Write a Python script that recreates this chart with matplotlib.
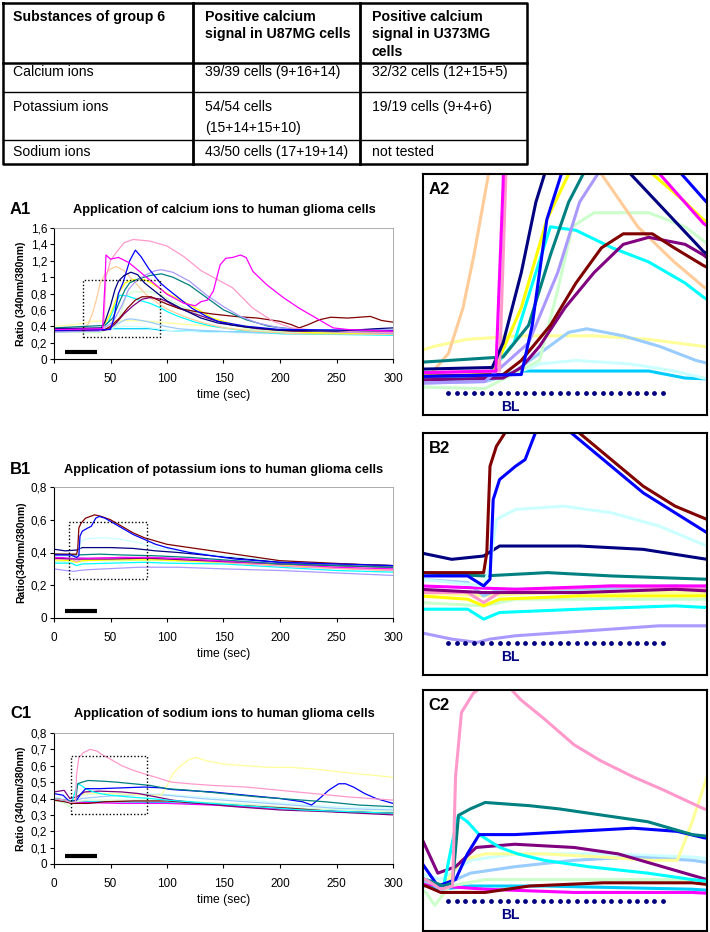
import numpy as np
import matplotlib.pyplot as plt

plt.rcParams['font.family'] = ['Liberation Sans', 'DejaVu Sans']

W, H = 710, 932

# Excel-like trace colours
NAVY = '#000080'
BLUE = '#0000ff'
MAGENTA = '#ff00ff'
ROSE = '#ff99cc'
TAN = '#ffcc99'
YELLOW = '#ffff00'
TEAL = '#008080'
LAVENDER = '#aa99ff'
LIGHTGREEN = '#ccffcc'
CYAN = '#00ffff'
DARKRED = '#800000'
PURPLE = '#800080'
PALEBLUE = '#99ccff'
LIGHTYELLOW = '#ffff99'
PALECYAN = '#ccffff'
SKY = '#00ccff'

# ---- table ----
table_header = ['Substances of group 6',
                'Positive calcium\nsignal in U87MG cells',
                'Positive calcium\nsignal in U373MG\ncells']
table_rows = [['Calcium ions', '39/39 cells (9+16+14)', '32/32 cells (12+15+5)'],
              ['Potassium ions', '54/54 cells\n(15+14+15+10)', '19/19 cells (9+4+6)'],
              ['Sodium ions', '43/50 cells (17+19+14)', 'not tested']]

# ---- A: calcium ions (time in s, ratio 340/380) ----
a_tan_t = [0, 25, 30, 34, 37, 41, 45, 50, 55, 62, 72, 82, 92, 100, 115, 130, 150, 175, 210, 300]
a_tan_v = [0.36, 0.36, 0.42, 0.55, 0.70, 0.93, 1.03, 1.10, 1.13, 1.08, 0.93, 0.78, 0.68, 0.61, 0.52, 0.45, 0.38, 0.34, 0.31, 0.30]
a_magenta_t = [0, 43, 45, 46, 50, 57, 66, 80, 88, 100, 115, 125, 130, 136, 141, 147, 152, 158, 165, 170, 176, 188, 203, 217, 232, 247, 260, 300]
a_magenta_v = [0.36, 0.37, 0.90, 1.27, 1.22, 1.24, 1.18, 1.02, 0.93, 0.79, 0.68, 0.65, 0.70, 0.72, 0.83, 1.15, 1.23, 1.24, 1.27, 1.24, 1.07, 0.91, 0.75, 0.62, 0.50, 0.38, 0.36, 0.34]
a_rose_t = [0, 44, 46, 50, 55, 62, 70, 85, 100, 115, 130, 150, 158, 176, 194, 210, 240, 300]
a_rose_v = [0.36, 0.37, 1.00, 1.20, 1.30, 1.42, 1.46, 1.44, 1.38, 1.25, 1.08, 0.93, 0.87, 0.62, 0.46, 0.38, 0.34, 0.32]
a_blue_t = [0, 50, 53, 57, 61, 67, 72, 77, 84, 94, 100, 110, 122, 135, 145, 170, 200, 300]
a_blue_v = [0.35, 0.36, 0.50, 0.80, 0.93, 1.20, 1.33, 1.25, 1.10, 0.93, 0.86, 0.75, 0.62, 0.52, 0.46, 0.40, 0.36, 0.35]
a_navy_t = [0, 42, 45, 50, 54, 57, 62, 68, 74, 80, 90, 100, 115, 130, 145, 170, 200, 250, 285, 300]
a_navy_v = [0.37, 0.38, 0.45, 0.65, 0.85, 0.95, 1.02, 1.06, 1.03, 0.93, 0.82, 0.71, 0.60, 0.50, 0.44, 0.39, 0.35, 0.34, 0.37, 0.38]
a_yellow_t = [0, 42, 50, 57, 63, 70, 80, 86, 95, 100, 115, 128, 140, 160, 190, 230, 300]
a_yellow_v = [0.35, 0.36, 0.55, 0.80, 0.93, 0.97, 0.97, 0.93, 0.85, 0.80, 0.70, 0.60, 0.50, 0.42, 0.36, 0.32, 0.31]
a_teal_t = [0, 30, 45, 52, 58, 63, 67, 75, 85, 95, 105, 120, 135, 150, 170, 190, 220, 300]
a_teal_v = [0.38, 0.40, 0.41, 0.50, 0.70, 0.85, 0.93, 0.98, 1.02, 1.04, 1.00, 0.90, 0.75, 0.60, 0.48, 0.40, 0.35, 0.32]
a_lavender_t = [0, 40, 52, 60, 66, 71, 80, 90, 95, 105, 120, 135, 150, 165, 180, 200, 230, 300]
a_lavender_v = [0.33, 0.34, 0.45, 0.65, 0.85, 0.93, 1.02, 1.08, 1.09, 1.06, 0.95, 0.78, 0.64, 0.52, 0.44, 0.38, 0.34, 0.31]
a_lightgreen_t = [0, 40, 55, 60, 64, 70, 85, 95, 105, 120, 135, 155, 180, 220, 300]
a_lightgreen_v = [0.33, 0.32, 0.40, 0.60, 0.78, 0.82, 0.82, 0.78, 0.70, 0.60, 0.50, 0.42, 0.35, 0.31, 0.30]
a_cyan_t = [0, 40, 48, 54, 58, 65, 75, 85, 95, 100, 110, 125, 140, 165, 200, 300]
a_cyan_v = [0.34, 0.35, 0.45, 0.65, 0.78, 0.77, 0.72, 0.68, 0.62, 0.58, 0.52, 0.45, 0.40, 0.35, 0.31, 0.29]
a_darkred_t = [0, 45, 50, 58, 65, 72, 78, 86, 92, 100, 110, 125, 140, 160, 180, 200, 210, 217, 225, 235, 245, 260, 280, 290, 300]
a_darkred_v = [0.35, 0.36, 0.40, 0.50, 0.62, 0.72, 0.76, 0.76, 0.72, 0.67, 0.62, 0.58, 0.55, 0.52, 0.50, 0.46, 0.42, 0.38, 0.42, 0.48, 0.51, 0.50, 0.52, 0.47, 0.45]
a_purple_t = [0, 45, 50, 55, 62, 70, 78, 85, 95, 100, 110, 125, 140, 155, 180, 210, 300]
a_purple_v = [0.34, 0.35, 0.38, 0.44, 0.55, 0.65, 0.73, 0.75, 0.73, 0.70, 0.62, 0.55, 0.48, 0.42, 0.37, 0.34, 0.33]
a_paleblue_t = [0, 40, 47, 55, 63, 68, 78, 88, 98, 110, 130, 160, 200, 300]
a_paleblue_v = [0.33, 0.34, 0.36, 0.42, 0.48, 0.49, 0.47, 0.44, 0.40, 0.37, 0.35, 0.33, 0.31, 0.30]
a_lightyellow_t = [0, 20, 26, 35, 50, 70, 85, 100, 120, 140, 160, 190, 230, 300]
a_lightyellow_v = [0.40, 0.42, 0.44, 0.46, 0.47, 0.47, 0.46, 0.44, 0.42, 0.40, 0.37, 0.34, 0.32, 0.30]
a_palecyan_t = [0, 45, 55, 65, 80, 92, 100, 130, 200, 300]
a_palecyan_v = [0.34, 0.35, 0.39, 0.40, 0.39, 0.37, 0.35, 0.33, 0.31, 0.30]
a_sky_t = [0, 40, 50, 85, 95, 120, 200, 300]
a_sky_v = [0.34, 0.35, 0.37, 0.37, 0.35, 0.34, 0.32, 0.31]

# ---- B: potassium ions ----
b_darkred_t = [0, 20, 21, 22, 24, 28, 32, 36, 42, 50, 60, 70, 80, 90, 100, 120, 140, 160, 180, 200, 230, 260, 300]
b_darkred_v = [0.39, 0.39, 0.42, 0.55, 0.58, 0.61, 0.62, 0.63, 0.62, 0.60, 0.56, 0.52, 0.49, 0.47, 0.45, 0.43, 0.41, 0.39, 0.37, 0.35, 0.34, 0.33, 0.32]
b_blue_t = [0, 15, 20, 22, 23, 25, 30, 33, 37, 40, 45, 50, 60, 70, 80, 90, 100, 120, 140, 160, 180, 200, 250, 300]
b_blue_v = [0.385, 0.385, 0.37, 0.38, 0.50, 0.53, 0.55, 0.56, 0.61, 0.62, 0.61, 0.59, 0.55, 0.51, 0.48, 0.45, 0.43, 0.40, 0.38, 0.36, 0.35, 0.34, 0.33, 0.32]
b_palecyan_t = [0, 20, 22, 24, 30, 45, 60, 75, 90, 110, 150, 200, 250, 300]
b_palecyan_v = [0.38, 0.37, 0.40, 0.47, 0.485, 0.49, 0.48, 0.46, 0.43, 0.41, 0.38, 0.35, 0.33, 0.32]
b_navy_t = [0, 10, 20, 25, 50, 70, 90, 110, 140, 170, 200, 250, 300]
b_navy_v = [0.42, 0.41, 0.415, 0.43, 0.43, 0.425, 0.41, 0.40, 0.38, 0.36, 0.34, 0.33, 0.32]
b_teal_t = [0, 20, 40, 60, 90, 120, 160, 200, 300]
b_teal_v = [0.39, 0.385, 0.39, 0.385, 0.38, 0.37, 0.35, 0.33, 0.31]
b_magenta_t = [0, 30, 60, 90, 120, 160, 200, 250, 300]
b_magenta_v = [0.37, 0.365, 0.37, 0.37, 0.36, 0.345, 0.33, 0.31, 0.30]
b_rose_t = [0, 15, 20, 25, 40, 60, 90, 130, 170, 220, 300]
b_rose_v = [0.36, 0.36, 0.345, 0.36, 0.365, 0.37, 0.365, 0.35, 0.33, 0.31, 0.29]
b_paleblue_t = [0, 15, 20, 25, 50, 80, 100, 140, 200, 300]
b_paleblue_v = [0.38, 0.375, 0.355, 0.365, 0.365, 0.37, 0.365, 0.35, 0.33, 0.31]
b_yellow_t = [0, 15, 20, 25, 50, 90, 130, 180, 230, 300]
b_yellow_v = [0.355, 0.35, 0.34, 0.35, 0.355, 0.355, 0.345, 0.33, 0.31, 0.29]
b_cyan_t = [0, 15, 20, 25, 50, 80, 100, 150, 200, 250, 300]
b_cyan_v = [0.335, 0.335, 0.32, 0.33, 0.335, 0.34, 0.335, 0.33, 0.31, 0.29, 0.28]
b_lightgreen_t = [0, 20, 30, 60, 100, 150, 200, 300]
b_lightgreen_v = [0.345, 0.34, 0.35, 0.35, 0.35, 0.335, 0.32, 0.30]
b_purple_t = [0, 20, 50, 80, 100, 150, 200, 300]
b_purple_v = [0.365, 0.36, 0.36, 0.365, 0.36, 0.345, 0.33, 0.31]
b_lavender_t = [0, 10, 18, 22, 30, 45, 60, 75, 90, 110, 150, 200, 250, 300]
b_lavender_v = [0.30, 0.29, 0.285, 0.29, 0.295, 0.30, 0.305, 0.31, 0.31, 0.31, 0.30, 0.29, 0.275, 0.26]
b_lightyellow_t = [0, 20, 40, 80, 120, 200, 300]
b_lightyellow_v = [0.36, 0.355, 0.36, 0.36, 0.355, 0.33, 0.30]

# ---- C: sodium ions ----
c_rose_t = [0, 10, 15, 19, 20, 22, 26, 32, 38, 42, 50, 60, 69, 80, 90, 104, 120, 140, 170, 200, 230, 260, 280, 300]
c_rose_v = [0.40, 0.39, 0.375, 0.38, 0.55, 0.65, 0.68, 0.70, 0.69, 0.67, 0.64, 0.60, 0.575, 0.55, 0.53, 0.50, 0.49, 0.48, 0.47, 0.45, 0.43, 0.41, 0.40, 0.39]
c_teal_t = [0, 10, 16, 19, 21, 25, 30, 45, 55, 70, 85, 100, 120, 150, 180, 200, 240, 270, 300]
c_teal_v = [0.40, 0.39, 0.38, 0.385, 0.49, 0.50, 0.51, 0.505, 0.50, 0.49, 0.48, 0.46, 0.45, 0.43, 0.41, 0.40, 0.38, 0.36, 0.35]
c_cyan_t = [0, 10, 16, 19, 21, 24, 28, 35, 41, 50, 65, 85, 100, 140, 180, 220, 260, 300]
c_cyan_v = [0.40, 0.39, 0.38, 0.45, 0.49, 0.48, 0.46, 0.44, 0.43, 0.42, 0.41, 0.40, 0.39, 0.37, 0.35, 0.33, 0.32, 0.31]
c_blue_t = [0, 8, 14, 20, 24, 28, 40, 60, 80, 95, 104, 115, 140, 170, 200, 220, 228, 235, 243, 252, 258, 265, 275, 285, 300]
c_blue_v = [0.43, 0.42, 0.38, 0.39, 0.43, 0.46, 0.46, 0.465, 0.47, 0.465, 0.455, 0.45, 0.44, 0.42, 0.40, 0.38, 0.36, 0.40, 0.45, 0.49, 0.49, 0.47, 0.43, 0.40, 0.37]
c_purple_t = [0, 9, 14, 20, 27, 40, 60, 75, 90, 105, 130, 160, 200, 240, 270, 300]
c_purple_v = [0.44, 0.45, 0.40, 0.41, 0.44, 0.445, 0.44, 0.43, 0.41, 0.39, 0.37, 0.35, 0.33, 0.32, 0.31, 0.30]
c_yellow_t = [0, 10, 16, 22, 30, 50, 70, 85, 95, 100, 105, 112, 120, 126, 135, 150, 170, 190, 210, 230, 250, 270, 300]
c_yellow_v = [0.40, 0.39, 0.38, 0.42, 0.43, 0.43, 0.425, 0.42, 0.42, 0.48, 0.55, 0.60, 0.64, 0.65, 0.63, 0.61, 0.60, 0.59, 0.59, 0.58, 0.565, 0.55, 0.53]
c_paleblue_t = [0, 15, 25, 40, 60, 80, 100, 130, 170, 210, 250, 300]
c_paleblue_v = [0.40, 0.38, 0.40, 0.41, 0.42, 0.425, 0.42, 0.40, 0.38, 0.36, 0.34, 0.33]
c_palecyan_t = [0, 15, 25, 40, 70, 100, 130, 170, 210, 250, 300]
c_palecyan_v = [0.41, 0.39, 0.42, 0.43, 0.43, 0.425, 0.41, 0.39, 0.37, 0.35, 0.34]
c_darkred_t = [0, 10, 15, 30, 45, 70, 100, 130, 170, 210, 250, 300]
c_darkred_v = [0.39, 0.38, 0.37, 0.37, 0.38, 0.385, 0.385, 0.37, 0.355, 0.34, 0.32, 0.31]
c_lightgreen_t = [0, 10, 13, 18, 30, 70, 100, 140, 180, 220, 260, 300]
c_lightgreen_v = [0.39, 0.37, 0.35, 0.38, 0.39, 0.39, 0.39, 0.375, 0.36, 0.34, 0.33, 0.32]
c_magenta_t = [0, 15, 30, 60, 100, 140, 180, 220, 260, 300]
c_magenta_v = [0.39, 0.38, 0.375, 0.37, 0.37, 0.36, 0.345, 0.33, 0.32, 0.31]
c_sky_t = [0, 15, 25, 50, 100, 150, 200, 250, 300]
c_sky_v = [0.39, 0.375, 0.38, 0.38, 0.375, 0.36, 0.34, 0.32, 0.31]

# application period (black bar) in seconds
bar_start, bar_end = 10, 38

traces_a = [(a_sky_t, a_sky_v, SKY), (a_palecyan_t, a_palecyan_v, PALECYAN),
            (a_lightyellow_t, a_lightyellow_v, LIGHTYELLOW), (a_paleblue_t, a_paleblue_v, PALEBLUE),
            (a_lightgreen_t, a_lightgreen_v, LIGHTGREEN), (a_cyan_t, a_cyan_v, CYAN),
            (a_tan_t, a_tan_v, TAN), (a_yellow_t, a_yellow_v, YELLOW),
            (a_purple_t, a_purple_v, PURPLE), (a_darkred_t, a_darkred_v, DARKRED),
            (a_teal_t, a_teal_v, TEAL), (a_lavender_t, a_lavender_v, LAVENDER),
            (a_rose_t, a_rose_v, ROSE), (a_blue_t, a_blue_v, BLUE),
            (a_navy_t, a_navy_v, NAVY), (a_magenta_t, a_magenta_v, MAGENTA)]
traces_b = [(b_lightgreen_t, b_lightgreen_v, LIGHTGREEN), (b_lightyellow_t, b_lightyellow_v, LIGHTYELLOW),
            (b_lavender_t, b_lavender_v, LAVENDER), (b_cyan_t, b_cyan_v, CYAN),
            (b_yellow_t, b_yellow_v, YELLOW), (b_paleblue_t, b_paleblue_v, PALEBLUE),
            (b_rose_t, b_rose_v, ROSE), (b_purple_t, b_purple_v, PURPLE),
            (b_magenta_t, b_magenta_v, MAGENTA), (b_teal_t, b_teal_v, TEAL),
            (b_navy_t, b_navy_v, NAVY), (b_palecyan_t, b_palecyan_v, PALECYAN),
            (b_darkred_t, b_darkred_v, DARKRED), (b_blue_t, b_blue_v, BLUE)]
traces_c = [(c_sky_t, c_sky_v, SKY), (c_magenta_t, c_magenta_v, MAGENTA),
            (c_lightgreen_t, c_lightgreen_v, LIGHTGREEN), (c_darkred_t, c_darkred_v, DARKRED),
            (c_palecyan_t, c_palecyan_v, PALECYAN), (c_paleblue_t, c_paleblue_v, PALEBLUE),
            (c_yellow_t, c_yellow_v, LIGHTYELLOW), (c_purple_t, c_purple_v, PURPLE),
            (c_cyan_t, c_cyan_v, CYAN), (c_blue_t, c_blue_v, BLUE),
            (c_teal_t, c_teal_v, TEAL), (c_rose_t, c_rose_v, ROSE)]


def box(px_left, px_top, px_right, px_bottom):
    return [px_left / W, 1 - px_bottom / H, (px_right - px_left) / W, (px_bottom - px_top) / H]


def overview(ax, traces, ymax, ystep, bar_y, sel, ylabel):
    for t, v, c in traces:
        ax.plot(t, v, color=c, lw=0.9)
    ax.plot([bar_start, bar_end], [bar_y, bar_y], color='black', lw=3, solid_capstyle='butt')
    x0, x1, y0, y1 = sel
    ax.plot([x0, x1, x1, x0, x0], [y0, y0, y1, y1, y0], color='black', lw=1, ls=(0, (1, 1.5)))
    ax.set_xlim(0, 300)
    ax.set_ylim(0, ymax)
    ax.set_xticks(range(0, 301, 50))
    yt = np.arange(0, ymax + 1e-9, ystep)
    ax.set_yticks(yt)
    ax.set_yticklabels([('%g' % round(y, 2)).replace('.', ',') for y in yt])
    ax.tick_params(axis='y', length=3, width=0.8, pad=2, labelsize=8.5)
    ax.tick_params(axis='x', length=3, width=0.8, pad=7, labelsize=8.5)
    for s in ['top', 'right']:
        ax.spines[s].set_color('#a0a0a0')
        ax.spines[s].set_linewidth(0.6)
    ax.set_xlabel('time (sec)', fontsize=8.7, labelpad=3)
    ax.set_ylabel(ylabel, fontsize=7.5, fontweight='bold', labelpad=3)


def zoomed(ax, traces, xlim, ylim, label, dots_y, bl_y):
    for t, v, c in traces:
        ax.plot(t, v, color=c, lw=2.2)
    ax.set_xlim(*xlim)
    ax.set_ylim(*ylim)
    ax.set_xticks([])
    ax.set_yticks([])
    for s in ax.spines.values():
        s.set_linewidth(1.5)
    ax.text(0.02, 0.935, label, transform=ax.transAxes, fontsize=12, fontweight='bold', va='center')
    dx = np.linspace(0.088, 0.845, 26)
    ax.scatter(dx, [dots_y] * len(dx), s=6, color=NAVY, transform=ax.transAxes, zorder=5)
    ax.text(0.306, bl_y, 'BL', transform=ax.transAxes, fontsize=10, fontweight='bold',
            color=NAVY, ha='center', va='center')


fig = plt.figure(figsize=(W / 100, H / 100), dpi=100)

# table
tab = fig.add_axes([0, 0, 1, 1])
tab.set_xlim(0, W)
tab.set_ylim(H, 0)
tab.axis('off')
L, R, T, B = 3, 527, 3, 164
cols = [3, 193, 360, 527]
tab.plot([L, R, R, L, L], [T, T, B, B, T], color='black', lw=1.8)
for x in cols[1:3]:
    tab.plot([x, x], [T, B], color='black', lw=2)
tab.plot([L, R], [63, 63], color='black', lw=1.8)
for y in [92, 140]:
    tab.plot([L, R], [y, y], color='black', lw=1)
text_x = [13, 205, 372]
for i, h in enumerate(table_header):
    tab.text(text_x[i], 10, h, fontsize=10.2, fontweight='bold', va='top', linespacing=1.3)
row_y = [65, 100, 145]
for r, row in enumerate(table_rows):
    for i, cell in enumerate(row):
        tab.text(text_x[i], row_y[r], cell, fontsize=10.1, va='top', linespacing=1.6)

# overview panels
ax_a = fig.add_axes(box(54, 228, 393, 359))
overview(ax_a, traces_a, 1.6, 0.2, 0.09, (26, 94, 0.27, 0.96), 'Ratio (340nm/380nm)')
ax_b = fig.add_axes(box(54, 487, 393, 618))
overview(ax_b, traces_b, 0.8, 0.2, 0.04, (13, 82, 0.236, 0.586), 'Ratio(340nm/380nm)')
ax_c = fig.add_axes(box(54, 733, 393, 864))
overview(ax_c, traces_c, 0.8, 0.1, 0.047, (15, 82, 0.307, 0.657), 'Ratio (340nm/380nm)')

titles = [('A1', 'Application of calcium ions to human glioma cells', 209),
          ('B1', 'Application of potassium ions to human glioma cells', 469),
          ('C1', 'Application of sodium ions to human glioma cells', 713)]
for lab, title, y in titles:
    fig.text(10 / W, 1 - y / H, lab, fontsize=12, fontweight='bold', va='center')
    fig.text(224 / W, 1 - (y + 1) / H, title, fontsize=9.2, fontweight='bold', va='center', ha='center')

# zoomed panels
zoomed(fig.add_axes(box(423, 174, 707, 415)), traces_a, (23, 101), (0.245, 0.93), 'A2', 0.091, 0.034)
zoomed(fig.add_axes(box(423, 433, 707, 675)), traces_b, (1, 90), (0.236, 0.60), 'B2', 0.133, 0.076)
zoomed(fig.add_axes(box(423, 690, 707, 931)), traces_c, (9, 105), (0.31, 0.685), 'C2', 0.126, 0.066)

fig.savefig('out.png', dpi=100)
